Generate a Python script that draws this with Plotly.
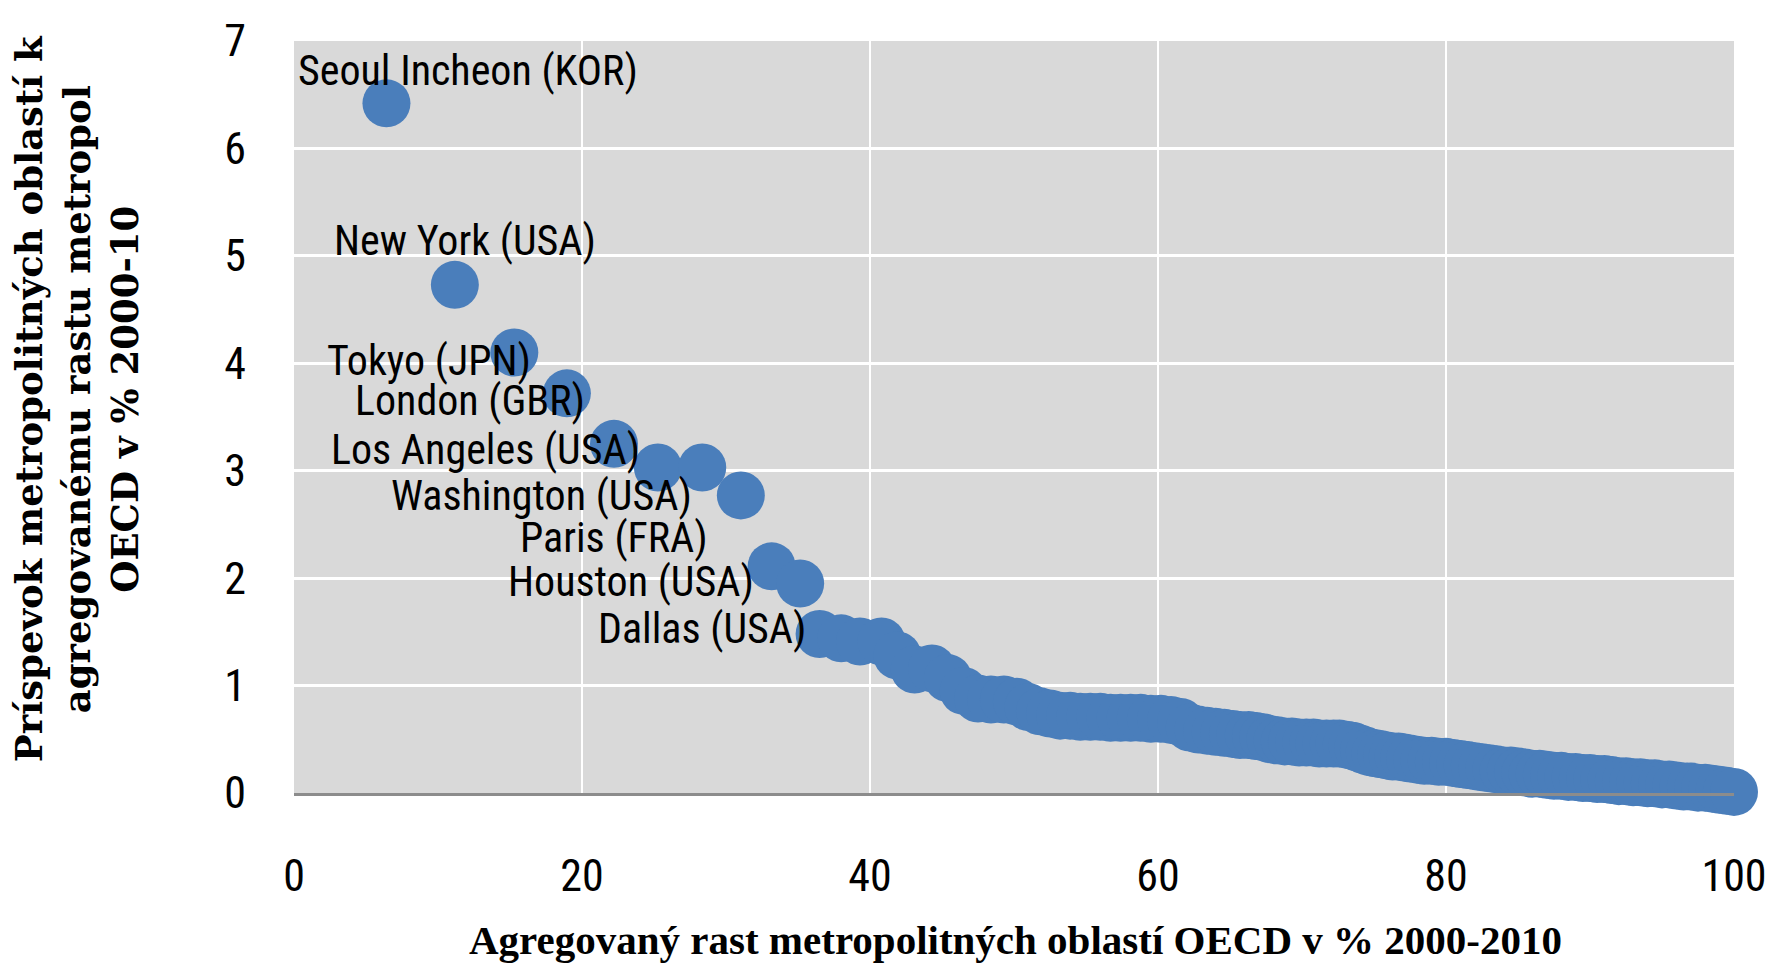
import plotly.graph_objects as go

# Cumulative share of aggregate OECD metro growth (x) and each metro's contribution (y)
x_share = [6.42, 11.17, 15.30, 18.95, 22.22, 25.27, 28.35, 31.03, 33.17, 35.15,
           36.50, 38.00, 39.30, 40.80, 41.90, 43.10, 44.30, 45.40, 46.50, 47.50,
           48.40, 49.30, 50.20, 51.00, 51.80, 52.50, 53.20, 53.90, 54.60, 55.30,
           56.00, 56.70, 57.40, 58.10, 58.80, 59.50, 60.20, 60.90, 61.60, 62.20,
           62.80, 63.40, 64.00, 64.60, 65.20, 65.70, 66.30, 66.80, 67.30, 67.80,
           68.30, 68.80, 69.30, 69.80, 70.30, 70.80, 71.20, 71.70, 72.20, 72.60,
           73.10, 73.50, 73.90, 74.30, 74.70, 75.10, 75.50, 75.90, 76.30, 76.70,
           77.10, 77.50, 78.00, 78.50, 79.00, 79.50, 80.00, 80.50, 81.00, 81.50,
           82.00, 82.50, 83.00, 83.50, 84.00, 84.50, 85.00, 85.50, 86.00, 86.50,
           87.00, 87.50, 88.00, 88.50, 89.00, 89.50, 90.00, 90.50, 91.00, 91.50,
           92.00, 92.50, 93.00, 93.50, 94.00, 94.50, 95.00, 95.50, 96.00, 96.50,
           97.00, 97.50, 98.00, 98.50, 99.00, 99.50, 100.00]
y_contrib = [6.42, 4.73, 4.10, 3.72, 3.25, 3.03, 3.03, 2.77, 2.11, 1.95,
             1.48, 1.44, 1.41, 1.41, 1.28, 1.15, 1.16, 1.07, 0.95, 0.88,
             0.87, 0.87, 0.85, 0.80, 0.76, 0.74, 0.72, 0.72, 0.71, 0.71,
             0.71, 0.70, 0.70, 0.70, 0.70, 0.69, 0.69, 0.68, 0.66, 0.61,
             0.59, 0.58, 0.57, 0.56, 0.55, 0.54, 0.54, 0.53, 0.52, 0.50,
             0.49, 0.48, 0.48, 0.47, 0.47, 0.47, 0.46, 0.46, 0.46, 0.46,
             0.45, 0.44, 0.42, 0.40, 0.38, 0.37, 0.36, 0.35, 0.34, 0.34,
             0.33, 0.32, 0.31, 0.30, 0.30, 0.29, 0.29, 0.28, 0.27, 0.26,
             0.25, 0.24, 0.23, 0.22, 0.21, 0.21, 0.20, 0.19, 0.18, 0.18,
             0.17, 0.16, 0.16, 0.15, 0.15, 0.14, 0.14, 0.13, 0.13, 0.12,
             0.11, 0.11, 0.10, 0.10, 0.09, 0.09, 0.08, 0.08, 0.07, 0.06,
             0.06, 0.05, 0.05, 0.04, 0.03, 0.02, 0.01]

label_names = ["Seoul Incheon (KOR)", "New York (USA)", "Tokyo (JPN)", "London (GBR)",
               "Los Angeles (USA)", "Washington (USA)", "Paris (FRA)", "Houston (USA)",
               "Dallas (USA)"]
label_index = [0, 1, 2, 3, 4, 5, 7, 8, 10]
label_dx = [82, 10, -85, -97, -128, -116, -127, -141, -118]
label_dy = [33, 44, -8, -7, -6, -28, -42, -15, 6]

x_ticks = [0, 20, 40, 60, 80, 100]
y_ticks = [0, 1, 2, 3, 4, 5, 6, 7]

x_title = "Agregovaný rast metropolitných oblastí OECD v % 2000-2010"
y_title = ("Príspevok metropolitných oblastí k<br>agregovanému rastu metropol"
           "<br>OECD v % 2000-10")

NARROW = "Liberation Sans Narrow, Arial Narrow, Roboto Condensed, Liberation Sans, sans-serif"
SERIF = "Liberation Serif, Times New Roman, serif"
WIDE_SERIF = "DejaVu Serif, Liberation Serif, serif"

fig = go.Figure()
fig.add_trace(go.Scatter(
    x=x_share, y=y_contrib, mode="markers",
    marker=dict(size=48, color="#4a7ebb", line=dict(width=0)),
    cliponaxis=False, showlegend=False,
))

for name, idx, dx, dy in zip(label_names, label_index, label_dx, label_dy):
    fig.add_annotation(
        x=x_share[idx], y=y_contrib[idx], xref="x", yref="y",
        text=name, showarrow=False, xshift=dx, yshift=dy,
        xanchor="center", yanchor="middle",
        font=dict(family=NARROW, size=42, color="#000000"),
    )

fig.add_annotation(
    text=x_title, xref="paper", yref="paper", x=0.5007, y=-0.196,
    xanchor="center", yanchor="middle", showarrow=False,
    font=dict(family=SERIF, size=41, color="#000000", weight="bold"),
)
fig.add_annotation(
    text=y_title, xref="paper", yref="paper", x=-0.1507, y=0.525,
    xanchor="center", yanchor="middle", showarrow=False, textangle=-90,
    font=dict(family=WIDE_SERIF, size=37, color="#000000", weight="bold"),
)

# page body has an 8px margin, so the figure is offset by 8px
fig.update_layout(
    width=1757, height=958,
    margin=dict(l=286, r=31, t=33, b=173, autoexpand=False),
    paper_bgcolor="#ffffff", plot_bgcolor="#d9d9d9",
    font=dict(family=NARROW, color="#000000"),
)
fig.update_xaxes(
    range=[0, 100], tickvals=x_ticks, showgrid=True, gridcolor="#ffffff", gridwidth=2,
    zeroline=False, showline=True, linecolor="#8c8c8c", linewidth=3,
    ticks="", tickfont=dict(family=NARROW, size=44, color="#000000"),
    ticklabelstandoff=42, automargin=False, ticklabeloverflow="allow",
)
fig.update_yaxes(
    range=[0, 7], tickvals=y_ticks, showgrid=True, gridcolor="#ffffff", gridwidth=3,
    zeroline=False, showline=False,
    ticks="", tickfont=dict(family=NARROW, size=44, color="#000000"),
    ticklabelstandoff=47, automargin=False, ticklabeloverflow="allow",
)

fig.write_html("out.html")
